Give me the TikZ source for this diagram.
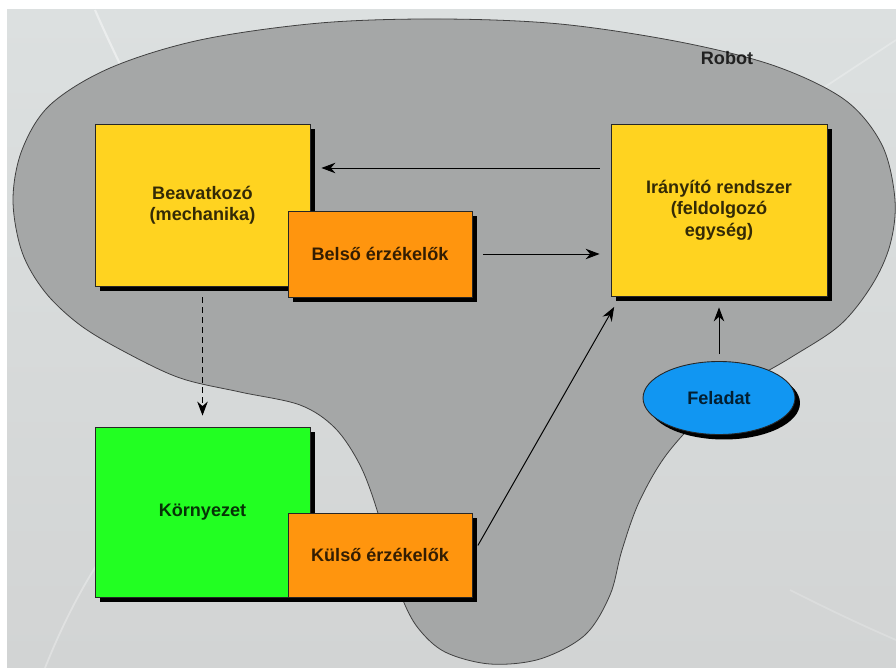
\documentclass[tikz,border=0pt]{standalone}
\usepackage{fontspec}
\setmainfont{Liberation Sans}
\usepackage{xcolor}
\usepackage{tikz}
\usetikzlibrary{arrows.meta,shadows,shapes.geometric}

\definecolor{bgtop}{HTML}{DCE0E0}
\definecolor{bgbot}{HTML}{D2D4D4}
\definecolor{blob}{HTML}{A5A7A7}
\definecolor{sarga}{HTML}{FFD320}
\definecolor{narancs}{HTML}{FF950E}
\definecolor{zold}{HTML}{22FF22}
\definecolor{kek}{HTML}{1196F2}

\begin{document}
\begin{tikzpicture}[x=0.02cm, y=-0.02cm,
	box/.style={draw=black!85, line width=0.5pt, align=center, inner sep=0pt,
		font=\fontsize{10.3}{12.2}\selectfont\bfseries, text opacity=0.8,
		drop shadow={shadow xshift=0.1cm, shadow yshift=-0.1cm, fill=black, opacity=1}},
	link/.style={-{Stealth[length=0.28cm,width=0.21cm]}, line width=0.55pt,
		shorten <=0.22cm, shorten >=0.22cm}]
			\useasboundingbox (0,0) rectangle (896,668);
			\fill[white] (0,0) rectangle (896,668);
			\shade[top color=bgtop, bottom color=bgbot] (7,10) rectangle (896,668);
			% halvany csikok a hatterben
			\draw[white, opacity=0.45, line width=1.2pt] (95,10) .. controls (130,90) and (190,200) .. (250,330);
			\draw[white, opacity=0.25, line width=1pt] (896,40) .. controls (820,90) and (760,130) .. (700,170);
			\draw[white, opacity=0.3, line width=1pt] (45,668) .. controls (60,630) and (80,590) .. (100,560);
			\draw[white, opacity=0.2, line width=1pt] (896,640) .. controls (850,620) and (820,605) .. (790,590);
			% a robot
			\filldraw[fill=blob, draw=black!75, line width=0.45pt]
				plot[smooth cycle, tension=0.55] coordinates {
				(440,19) (560,24) (680,42) (775,66) (845,100) (882,145) (895,200)
				(890,245) (872,285) (840,325) (790,358) (720,400) (670,450)
				(640,500) (622,550) (610,595) (585,635) (540,659) (490,664)
				(445,652) (418,628) (402,598) (390,560) (377,510) (360,465)
				(335,428) (300,405) (240,392) (180,378) (125,352) (80,325)
				(45,292) (22,252) (13,200) (22,150) (50,105) (110,68) (200,40) (320,23)};
			\node[font=\fontsize{10.3}{12.2}\selectfont\bfseries, text opacity=0.8] at (727,58) (robot) {Robot};

			\node[box, fill=sarga, minimum width=4.3cm, minimum height=3.24cm] at (202.5,205) (beav) {Beavatkozó\\(mechanika)};
			\node[box, fill=narancs, minimum width=3.68cm, minimum height=1.72cm] at (380,254) (belso) {Belső érzékelők};
			\node[box, fill=sarga, minimum width=4.32cm, minimum height=3.44cm] at (719,210) (iranyito) {Irányító rendszer\\(feldolgozó\\egység)};
			\node[box, fill=zold, minimum width=4.3cm, minimum height=3.4cm] at (202.5,512) (korny) {Környezet};
			\node[box, fill=narancs, minimum width=3.68cm, minimum height=1.68cm] at (380,555) (kulso) {Külső érzékelők};
			\node[box, ellipse, fill=kek, minimum width=3.04cm, minimum height=1.46cm,
				drop shadow={shadow xshift=0.06cm, shadow yshift=-0.06cm, fill=black, opacity=1}] at (719,398) (feladat) {Feladat};

			\draw[link] (iranyito.west |- 0,168) -- (beav.east |- 0,168);
			\draw[link] (belso.east) -- (belso.east -| iranyito.west);
			\draw[link, dashed, dash pattern=on 0.12cm off 0.08cm] (beav.south) -- (korny.north);
			\draw[link] (kulso.east) -- ([xshift=0.18cm, yshift=-0.02cm]iranyito.south west);
			\draw[link, shorten <=0.14cm] (feladat.north) -- (feladat.north |- iranyito.south);
		\end{tikzpicture}
\end{document}
